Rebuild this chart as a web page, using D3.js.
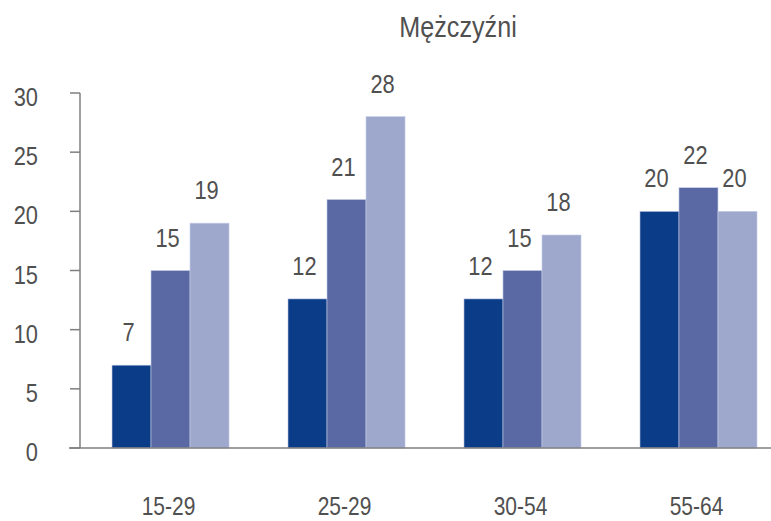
<!DOCTYPE html>
<meta charset="utf-8">
<script src="https://d3js.org/d3.v7.min.js"></script>
<style>
  body { margin: 0; background: #fff; }
  text { font-family: "Liberation Sans Narrow", "Arial Narrow", sans-serif; fill: #505050; }
</style>
<div id="my_dataviz"></div>
<script>

// data
var groups = ["15-29", "25-29", "30-54", "55-64"];
var series = ["a", "b", "c"];
var values = [
  [7, 15, 19],
  [12.6, 21, 28],
  [12.6, 15, 18],
  [20, 22, 20]
];
var labels = [
  ["7", "15", "19"],
  ["12", "21", "28"],
  ["12", "15", "18"],
  ["20", "22", "20"]
];
var yTicks = [0, 5, 10, 15, 20, 25, 30];
var colors = ["#0b3c87", "#5a69a4", "#9ea8cd"];
var title = "Mężczyźni";

var W = 771, H = 521;
var squeeze = 0.84; // condensed look

var svg = d3.select("#my_dataviz")
  .append("svg")
    .attr("width", W)
    .attr("height", H);

var x = d3.scaleBand()
  .domain(groups)
  .range([112, 757])
  .paddingInner(0.335)
  .paddingOuter(0);

var xSub = d3.scaleBand()
  .domain(series)
  .range([0, x.bandwidth()]);

var y = d3.scaleLinear()
  .domain([0, 30])
  .range([448, 93]);

// helper: narrow text
function label(sel, tx, ty, size, anchor) {
  return sel.append("text")
    .attr("transform", "translate(" + tx + "," + ty + ") scale(" + squeeze + ",1)")
    .attr("text-anchor", anchor)
    .style("font-size", size + "px");
}

// title
label(svg, 458, 37, 30, "middle").text(title);

// y axis
var axisColor = "#7f7f7f";
svg.append("line")
  .attr("x1", 80).attr("x2", 80)
  .attr("y1", y(30)).attr("y2", y(0))
  .attr("stroke", axisColor).attr("stroke-width", 1.5);

yTicks.forEach(function(t) {
  svg.append("line")
    .attr("x1", 70).attr("x2", 80)
    .attr("y1", y(t)).attr("y2", y(t))
    .attr("stroke", axisColor).attr("stroke-width", 1.5);
  label(svg, 38, y(t) + 13, 26, "end").text(t);
});

// bars
var g = svg.selectAll(".grp")
  .data(groups)
  .enter().append("g")
    .attr("transform", function(d) { return "translate(" + x(d) + ",0)"; });

g.each(function(gname, gi) {
  var sel = d3.select(this);
  series.forEach(function(s, si) {
    var v = values[gi][si];
    sel.append("rect")
      .attr("x", xSub(s))
      .attr("y", y(v))
      .attr("width", xSub.bandwidth())
      .attr("height", y(0) - y(v))
      .attr("fill", colors[si])
      .attr("stroke", "#c5cde6")
      .attr("stroke-width", 0.6);
    label(sel, xSub(s) + xSub.bandwidth() / 2 - 3, y(v) - 24, 26, "middle")
      .text(labels[gi][si]);
  });
});

// x baseline
svg.append("line")
  .attr("x1", 69).attr("x2", W)
  .attr("y1", y(0)).attr("y2", y(0))
  .attr("stroke", axisColor).attr("stroke-width", 1.5);

// category labels
groups.forEach(function(d) {
  label(svg, x(d) + x.bandwidth() / 2 - 2, 515, 25, "middle").text(d);
});

</script>
